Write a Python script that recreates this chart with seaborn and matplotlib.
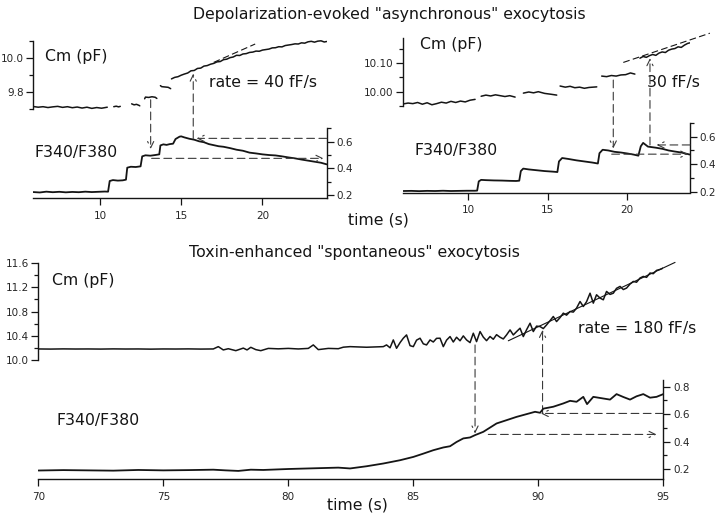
import numpy as np
import pandas as pd
import seaborn as sns
import matplotlib.pyplot as plt

sns.set_style("ticks")
plt.rcParams['font.family'] = ['DejaVu Sans']

# ---- panel A : depolarization, left ----
a_cm_t = [[5.9, 6.2, 6.5, 6.8, 7.1, 7.4, 7.7, 8.0, 8.3, 8.6, 8.9, 9.2, 9.5, 9.8, 10.1, 10.45],
          [10.85, 11.0, 11.15, 11.25],
          [11.95, 12.1, 12.25, 12.4, 12.45],
          [12.75, 12.8, 13.0, 13.2, 13.4, 13.5],
          [13.72, 13.8, 14.0, 14.2, 14.35],
          [14.4, 14.6, 14.8, 15.0, 15.2, 15.4, 15.6, 15.8, 16.0, 16.2, 16.4, 16.6, 16.8, 17.0, 17.2, 17.4,
           17.6, 17.8, 18.0, 18.2, 18.4, 18.6, 18.8, 19.0, 19.2, 19.4, 19.6, 19.8, 20.0, 20.2, 20.4, 20.6,
           20.8, 21.0, 21.2, 21.4, 21.6, 21.8, 22.0, 22.2, 22.4, 22.6, 22.8, 23.0, 23.2, 23.4, 23.6, 23.8, 23.95]]
a_cm_v = [[9.712, 9.708, 9.711, 9.706, 9.710, 9.713, 9.707, 9.711, 9.705, 9.709, 9.703, 9.708, 9.701, 9.706, 9.702, 9.708],
          [9.711, 9.714, 9.710, 9.713],
          [9.728, 9.722, 9.725, 9.719, 9.716],
          [9.758, 9.768, 9.766, 9.770, 9.767, 9.760],
          [9.836, 9.830, 9.828, 9.826, 9.818],
          [9.876, 9.885, 9.889, 9.898, 9.905, 9.911, 9.924, 9.926, 9.938, 9.940, 9.952, 9.955, 9.963, 9.968, 9.977, 9.979,
           9.990, 9.993, 10.002, 10.006, 10.016, 10.015, 10.024, 10.026, 10.033, 10.035, 10.041, 10.040, 10.047, 10.050, 10.053, 10.060,
           10.061, 10.067, 10.066, 10.074, 10.077, 10.080, 10.084, 10.083, 10.090, 10.088, 10.096, 10.099, 10.094, 10.100, 10.102, 10.095, 10.098]]
a_fit_t = [17.0, 19.55]
a_fit_v = [9.974, 10.083]
a_f_t = [5.9, 6.3, 6.7, 7.1, 7.5, 7.9, 8.3, 8.7, 9.1, 9.5, 9.9, 10.3, 10.5,
         10.6, 10.8, 11.1, 11.4, 11.6,
         11.68, 11.9, 12.2, 12.5,
         12.6, 12.8, 13.1, 13.4, 13.65,
         13.72, 13.9, 14.1, 14.3, 14.5,
         14.65, 14.9, 15.0, 15.2, 15.5, 15.8, 16.1, 16.4, 16.7, 17.0, 17.3, 17.6, 18.0, 18.4, 18.8,
         19.2, 19.6, 20.0, 20.4, 20.8, 21.2, 21.6, 22.0, 22.4, 22.8, 23.2, 23.6, 23.95]
a_f_v = [0.222, 0.219, 0.225, 0.221, 0.224, 0.220, 0.223, 0.221, 0.225, 0.222, 0.224, 0.226, 0.225,
         0.305, 0.312, 0.308, 0.310, 0.315,
         0.405, 0.412, 0.410, 0.415,
         0.490, 0.498, 0.495, 0.500, 0.505,
         0.572, 0.580, 0.576, 0.582, 0.585,
         0.620, 0.638, 0.640, 0.632, 0.622, 0.615, 0.603, 0.596, 0.582, 0.574, 0.566, 0.562, 0.552, 0.540, 0.532,
         0.518, 0.512, 0.505, 0.500, 0.497, 0.490, 0.482, 0.475, 0.466, 0.458, 0.450, 0.442, 0.430]
# arrows: (t, start, end) and horizontal (t, F) / (t start, t end, F)
a_down = (13.12, 9.752, 0.545)
a_up = (15.74, 0.625, 9.907)
a_hor_left = (15.95, 0.625)
a_hor_right = (13.18, 23.75, 0.475)

# ---- panel B : depolarization, right ----
b_cm_t = [[5.9, 6.2, 6.5, 6.8, 7.1, 7.4, 7.7, 8.0, 8.3, 8.6, 8.9, 9.2, 9.5, 9.8, 10.1, 10.42],
          [10.8, 11.1, 11.4, 11.7, 12.0, 12.3, 12.6, 12.94],
          [13.46, 13.8, 14.1, 14.4, 14.8, 15.2, 15.56],
          [15.77, 16.1, 16.4, 16.7, 17.0, 17.3, 17.6, 18.08],
          [18.39, 18.7, 19.0, 19.3, 19.6, 19.9, 20.2, 20.48],
          [20.8, 21.0, 21.2, 21.4, 21.6, 21.8, 22.0, 22.2, 22.4, 22.6, 22.8, 23.0, 23.2, 23.4, 23.6, 23.8, 23.94]]
b_cm_v = [[9.957, 9.960, 9.958, 9.962, 9.956, 9.961, 9.954, 9.958, 9.963, 9.960, 9.966, 9.962, 9.967, 9.964, 9.970, 9.973],
          [9.984, 9.988, 9.985, 9.989, 9.986, 9.983, 9.986, 9.981],
          [9.995, 9.999, 9.996, 10.000, 9.994, 9.991, 9.988],
          [10.020, 10.016, 10.019, 10.014, 10.016, 10.012, 10.015, 10.017],
          [10.055, 10.053, 10.057, 10.055, 10.059, 10.060, 10.066, 10.062],
          [10.118, 10.124, 10.121, 10.127, 10.131, 10.128, 10.136, 10.140, 10.138, 10.146, 10.150, 10.152, 10.158, 10.156, 10.164, 10.170, 10.172]]
b_fit_t = [19.75, 25.2]
b_fit_v = [10.103, 10.206]
b_f_t = [5.9, 6.4, 6.9, 7.4, 7.9, 8.4, 8.9, 9.4, 9.9, 10.4, 10.55,
         10.65, 10.8, 11.1, 11.6, 12.1, 12.6, 13.0, 13.2,
         13.3, 13.45, 13.8, 14.3, 14.8, 15.3, 15.6,
         15.7, 15.9, 16.3, 16.8, 17.3, 17.8, 18.15,
         18.25, 18.45, 18.8, 19.2, 19.6, 20.0, 20.4, 20.7,
         20.85, 21.0, 21.3, 21.8, 22.2, 22.6, 23.0, 23.4, 23.94]
b_f_v = [0.205, 0.206, 0.204, 0.206, 0.205, 0.207, 0.205, 0.206, 0.207, 0.207, 0.208,
         0.275, 0.286, 0.284, 0.282, 0.281, 0.279, 0.278, 0.280,
         0.350, 0.368, 0.362, 0.356, 0.350, 0.346, 0.343,
         0.420, 0.445, 0.438, 0.428, 0.420, 0.412, 0.405,
         0.480, 0.505, 0.500, 0.490, 0.485, 0.478, 0.470, 0.462,
         0.530, 0.555, 0.528, 0.520, 0.512, 0.500, 0.492, 0.485, 0.470]
b_down = (19.12, 10.041, 0.515)
b_up = (21.43, 0.54, 10.118)
b_hor_left = (21.85, 0.54)
b_hor_right = (19.02, 23.84, 0.473)

# ---- panel C : toxin ----
c_cm_t = [70, 70.5, 71, 71.5, 72, 72.5, 73, 73.5, 74, 74.5, 75, 75.5, 76, 76.5, 77.0, 77.2, 77.4, 77.6, 77.9,
          78.2, 78.35, 78.5, 78.7, 78.9, 79.2, 79.6, 80.0, 80.4, 80.8, 81.0, 81.2, 81.6, 82.0, 82.2, 82.47, 83.13,
          83.8, 83.93, 84.07, 84.2, 84.33, 84.47, 84.6, 84.73, 84.87, 85.0,
          85.13, 85.27, 85.4, 85.53, 85.67, 85.8, 85.93, 86.07, 86.2, 86.33,
          86.47, 86.6, 86.73, 86.87, 87.0, 87.13, 87.27, 87.4, 87.53, 87.67,
          87.8, 87.93, 88.07, 88.2, 88.33, 88.47, 88.6, 88.73, 88.87, 89.0,
          89.13, 89.27, 89.4, 89.53, 89.67, 89.8, 89.93, 90.07, 90.2, 90.33,
          90.47, 90.6, 90.73, 90.87, 91.0, 91.13, 91.27, 91.4, 91.53, 91.67,
          91.8, 91.93, 92.07, 92.2, 92.33, 92.47, 92.6, 92.73, 92.87, 93.0,
          93.13, 93.27, 93.4, 93.53, 93.67, 93.8, 93.93, 94.07, 94.2, 94.33,
          94.47, 94.6, 94.73, 94.87, 95.0]
c_cm_v = [10.186, 10.184, 10.187, 10.185, 10.186, 10.184, 10.187, 10.185, 10.186, 10.183, 10.186, 10.185, 10.187,
          10.184, 10.186, 10.224, 10.170, 10.190, 10.158, 10.200, 10.170, 10.213, 10.175, 10.158, 10.195, 10.188,
          10.195, 10.186, 10.195, 10.252, 10.175, 10.195, 10.190, 10.215, 10.224, 10.214,
          10.224, 10.252, 10.205, 10.334, 10.197, 10.290, 10.362, 10.416, 10.240, 10.224,
          10.330, 10.362, 10.270, 10.252, 10.334, 10.300, 10.360, 10.362, 10.224, 10.330,
          10.389, 10.300, 10.378, 10.320, 10.400, 10.334, 10.290, 10.444, 10.306, 10.471,
          10.380, 10.322, 10.390, 10.345, 10.420, 10.378, 10.350, 10.416, 10.498, 10.416,
          10.470, 10.526, 10.389, 10.500, 10.608, 10.471, 10.560, 10.553, 10.520, 10.580,
          10.650, 10.718, 10.635, 10.700, 10.773, 10.740, 10.800, 10.790, 10.855, 10.964,
          10.882, 10.960, 11.100, 10.937, 11.074, 11.020, 10.992, 11.129, 11.080, 11.100,
          11.180, 11.211, 11.160, 11.184, 11.250, 11.293, 11.280, 11.349, 11.375, 11.360,
          11.431, 11.420, 11.474, 11.490, 11.513]
c_fit_t = [88.8, 95.47]
c_fit_v = [10.32, 11.605]
c_f_t = [70, 71, 72, 73, 74, 75, 76, 77, 77.5, 78, 78.5, 79, 80, 81, 82, 82.47, 83.13, 83.8, 84.47, 85.0,
         85.4, 85.8, 86.2, 86.47, 86.73, 87.0, 87.27, 87.47, 87.8, 88.33, 88.73, 89.13, 89.53, 89.87, 90.07,
         90.2, 90.6, 91.0, 91.27, 91.53, 91.8, 91.95, 92.2, 92.6, 92.87, 93.13, 93.4, 93.67, 93.93, 94.2, 94.47,
         94.73, 95.0]
c_f_v = [0.189, 0.192, 0.190, 0.188, 0.193, 0.190, 0.192, 0.195, 0.190, 0.186, 0.195, 0.193, 0.200, 0.205, 0.210,
         0.204, 0.220, 0.240, 0.264, 0.288, 0.312, 0.337, 0.357, 0.366, 0.397, 0.423, 0.430, 0.447, 0.471, 0.532,
         0.556, 0.580, 0.600, 0.617, 0.610, 0.640, 0.654, 0.678, 0.697, 0.690, 0.726, 0.673, 0.726, 0.714, 0.706,
         0.746, 0.725, 0.706, 0.730, 0.746, 0.720, 0.726, 0.746]
c_down = (87.47, 10.252, 0.459)
c_up = (90.17, 0.605, 10.498)
c_hor_left = (90.1, 0.605)
c_hor_right = (88.0, 94.73, 0.452)

W, H = 720, 517
fig = plt.figure(figsize=(7.2, 5.17), dpi=100)
ink = '#151515'
dash = '#3a3a3a'


def box(left, right, top, bot):
    return [left / W, 1 - bot / H, (right - left) / W, (bot - top) / H]


def lim(v1, p1, v2, p2, top, bot):
    # pixel calibration from two ticks of the reference
    k = (v1 - v2) / (p1 - p2)
    return v1 + (bot - p1) * k, v1 + (top - p1) * k


def segments_df(ts, vs):
    rows = []
    for i, (t, v) in enumerate(zip(ts, vs)):
        rows.append(pd.DataFrame({'t': t, 'v': v, 'seg': i}))
    return pd.concat(rows, ignore_index=True)


def arrow(ax, xy, xy_tr, xytext, txt_tr):
    ax.annotate('', xy=xy, xycoords=xy_tr, xytext=xytext, textcoords=txt_tr,
                arrowprops=dict(arrowstyle='->,head_length=0.45,head_width=0.22', color=dash,
                                lw=0.8, ls=(0, (7, 4)), shrinkA=0, shrinkB=0),
                annotation_clip=False)


def panel(rect, xlim, xt, cm_lim, cm_b, cm_major, cm_minor, cm_lab, f_lim, f_b, f_major, f_minor):
    ax = fig.add_axes(rect)
    ax2 = ax.twinx()
    ax.set_xlim(*xlim)
    ax.set_ylim(*cm_lim)
    ax2.set_ylim(*f_lim)
    for s in ['top', 'right']:
        ax.spines[s].set_visible(False)
    for s in ['top', 'left', 'bottom']:
        ax2.spines[s].set_visible(False)
    ax.spines['left'].set_bounds(*cm_b)
    ax2.spines['right'].set_bounds(*f_b)
    for sp in list(ax.spines.values()) + list(ax2.spines.values()):
        sp.set_linewidth(1.0)
        sp.set_color(ink)
    ax.set_xticks(xt)
    ax.set_yticks(cm_major)
    ax.set_yticklabels(cm_lab)
    ax.set_yticks(cm_minor, minor=True)
    ax2.set_yticks(f_major)
    ax2.set_yticklabels([f'{v:.1f}' for v in f_major])
    ax2.set_yticks(f_minor, minor=True)
    for a in (ax, ax2):
        a.tick_params(which='major', length=5, width=0.9, labelsize=7.5, pad=2, color=ink)
        a.tick_params(which='minor', length=3, width=0.9, color=ink)
    ax.tick_params(axis='x', pad=4)
    return ax, ax2


def draw(ax, ax2, cm_t, cm_v, fit_t, fit_v, f_t, f_v, fit_ls, down, up, hl, hr, xmax):
    cm = segments_df(cm_t, cm_v)
    sns.lineplot(data=cm, x='t', y='v', units='seg', estimator=None, sort=False,
                 color=ink, lw=1.1, ax=ax, legend=False)
    ax.plot(fit_t, fit_v, color=ink, lw=0.8, ls=fit_ls, clip_on=False)
    ff = pd.DataFrame({'t': f_t, 'v': f_v})
    sns.lineplot(data=ff, x='t', y='v', estimator=None, sort=False, color=ink, lw=1.3, ax=ax2)
    for a in (ax, ax2):
        a.set_xlabel('')
        a.set_ylabel('')
    arrow(ax, (down[0], down[2]), ax2.transData, (down[0], down[1]), ax.transData)
    arrow(ax, (up[0], up[2]), ax.transData, (up[0], up[1]), ax2.transData)
    arrow(ax2, (hl[0], hl[1]), ax2.transData, (xmax, hl[1]), ax2.transData)
    arrow(ax2, (hr[1], hr[2]), ax2.transData, (hr[0], hr[2]), ax2.transData)


# panel A
axA, axA2 = panel(box(33.3, 326.7, 38, 198.3), (5.9, 23.95), [10, 15, 20],
                  lim(10.0, 58, 9.8, 91.7, 38, 198.3), (9.7, 10.1), [9.8, 10.0], [9.7, 9.9, 10.1], ['9.8', '10.0'],
                  lim(0.6, 141.7, 0.2, 195, 38, 198.3), (0.175, 0.7), [0.2, 0.4, 0.6], [0.3, 0.5, 0.7])
draw(axA, axA2, a_cm_t, a_cm_v, a_fit_t, a_fit_v, a_f_t, a_f_v, (0, (6, 3)),
     a_down, a_up, a_hor_left, a_hor_right, 23.95)

# panel B
axB, axB2 = panel(box(403.3, 690, 36, 192.5), (5.9, 23.95), [10, 15, 20],
                  lim(10.1, 63.3, 10.0, 91.7, 36, 192.5), (9.95, 10.19), [10.0, 10.1], [9.95, 10.05, 10.15], ['10.00', '10.10'],
                  lim(0.6, 136.7, 0.2, 191.7, 36, 192.5), (0.2, 0.7), [0.2, 0.4, 0.6], [0.3, 0.5, 0.7])
draw(axB, axB2, b_cm_t, b_cm_v, b_fit_t, b_fit_v, b_f_t, b_f_v, (0, (6, 3)),
     b_down, b_up, b_hor_left, b_hor_right, 23.95)

# panel C
axC, axC2 = panel(box(38.3, 663.3, 258, 479.3), (70, 95), [70, 75, 80, 85, 90, 95],
                  lim(11.6, 262.7, 10.0, 360.3, 258, 479.3), (10.0, 11.6), [10.0, 10.4, 10.8, 11.2, 11.6],
                  [10.2, 10.6, 11.0, 11.4], ['10.0', '10.4', '10.8', '11.2', '11.6'],
                  lim(0.8, 386.7, 0.2, 469, 258, 479.3), (0.125, 0.85), [0.2, 0.4, 0.6, 0.8], [0.3, 0.5, 0.7])
draw(axC, axC2, [c_cm_t], [c_cm_v], c_fit_t, c_fit_v, c_f_t, c_f_v, '-',
     c_down, c_up, c_hor_left, c_hor_right, 95)


def label(px, py, s, size=11.3, ha='left'):
    fig.text(px / W, 1 - py / H, s, ha=ha, va='center', fontsize=size, color=ink)


label(389, 15, 'Depolarization-evoked "asynchronous" exocytosis', ha='center')
label(354.5, 253, 'Toxin-enhanced "spontaneous" exocytosis', ha='center')
label(45, 56, 'Cm (pF)')
label(209, 82, 'rate = 40 fF/s')
label(35, 152, 'F340/F380')
label(420, 45, 'Cm (pF)')
label(647, 82, '30 fF/s')
label(415, 150, 'F340/F380')
label(52, 281, 'Cm (pF)')
label(578, 328, 'rate = 180 fF/s')
label(56, 421, 'F340/F380')
label(348, 220, 'time (s)')
label(327, 505, 'time (s)')

fig.savefig('out.png', dpi=100)
